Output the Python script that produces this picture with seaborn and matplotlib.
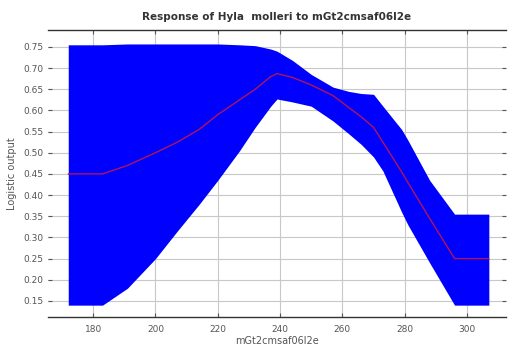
import matplotlib
matplotlib.use("Agg")
import matplotlib.pyplot as plt
import seaborn as sns
import pandas as pd
import numpy as np

# Data
x_values = [172, 183, 191, 200, 207, 214, 220, 227, 232, 237, 239, 244, 250,
            257, 262, 266, 270, 273, 279, 281, 288, 296, 307]
mean_resp = [0.45, 0.45, 0.47, 0.50, 0.525, 0.555, 0.59, 0.625, 0.65, 0.68, 0.687,
             0.678, 0.66, 0.635, 0.607, 0.585, 0.56, 0.525, 0.455, 0.43, 0.345, 0.25, 0.25]
upper_resp = [0.755, 0.755, 0.757, 0.757, 0.757, 0.757, 0.757, 0.755, 0.753, 0.745, 0.74,
              0.718, 0.685, 0.655, 0.645, 0.64, 0.638, 0.61, 0.555, 0.53, 0.435, 0.355, 0.355]
lower_resp = [0.14, 0.14, 0.18, 0.25, 0.315, 0.378, 0.435, 0.505, 0.56, 0.61, 0.627,
              0.62, 0.61, 0.575, 0.545, 0.52, 0.49, 0.457, 0.36, 0.33, 0.24, 0.14, 0.14]
x_ticks = [180, 200, 220, 240, 260, 280, 300]
y_ticks = [0.15, 0.20, 0.25, 0.30, 0.35, 0.40, 0.45, 0.50, 0.55, 0.60, 0.65, 0.70, 0.75]

title = "Response of Hyla  molleri to mGt2cmsaf06l2e"
x_label = "mGt2cmsaf06l2e"
y_label = "Logistic output"

df = pd.DataFrame({"x": x_values, "mean": mean_resp, "lo": lower_resp, "hi": upper_resp})

sns.set_style("white")
plt.rcParams['font.family'] = ['DejaVu Sans']

fig = plt.figure(figsize=(5.08, 3.52), dpi=100)
ax = fig.add_axes([0.0945, 0.0994, 0.9015, 0.8154])

ax.fill_between(df["x"], df["lo"], df["hi"], color="#0000ff", linewidth=0, zorder=2)
sns.lineplot(data=df, x="x", y="mean", ax=ax, color="#b0155a", linewidth=1.0, zorder=3)

ax.set_xlim(165.5, 312.5)
ax.set_ylim(0.112, 0.790)
ax.set_xticks(x_ticks)
ax.set_yticks(y_ticks)
ax.set_xticklabels([str(t) for t in x_ticks])
ax.set_yticklabels([f"{t:.2f}" for t in y_ticks])
ax.grid(True, color="#c8c8c8", linewidth=0.8, zorder=0)
ax.set_axisbelow(True)

for s in ["left", "right"]:
    ax.spines[s].set_visible(False)
for s in ["top", "bottom"]:
    ax.spines[s].set_color("#333333")
    ax.spines[s].set_linewidth(1.0)

ax.tick_params(axis="both", which="both", labelsize=6.5, colors="#555555",
               length=3, direction="in", top=True, right=True, left=True, bottom=True)
ax.tick_params(axis="x", pad=6)

ax.set_title(title, fontsize=7.5, fontweight="bold", color="#333333", pad=7)
ax.set_xlabel(x_label, fontsize=7, color="#555555", labelpad=1)
ax.set_ylabel(y_label, fontsize=7, color="#555555", labelpad=4)

fig.savefig("out.png", dpi=100)
